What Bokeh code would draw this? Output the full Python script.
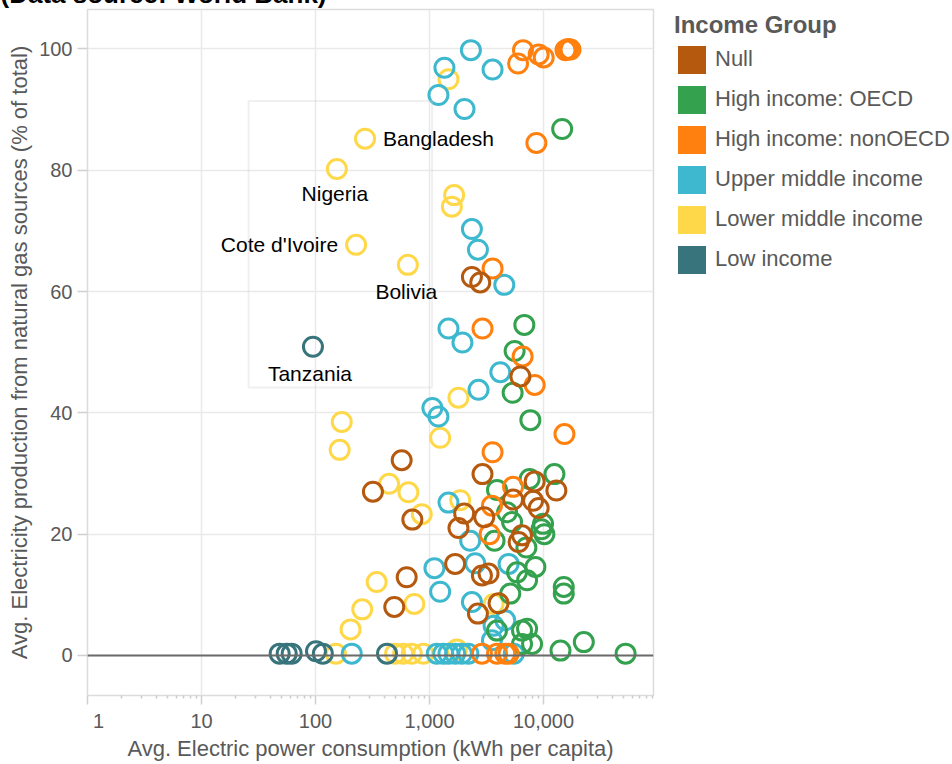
from bokeh.plotting import figure
from bokeh.models import FixedTicker, Legend, LegendItem, BoxAnnotation, Span
from bokeh.core.properties import value
from bokeh.embed import file_html
from bokeh.resources import INLINE

FONT = "Liberation Sans"
GRAY = "#595959"

# ---------------- data ----------------
groups = ["Null", "High income: OECD", "High income: nonOECD",
          "Upper middle income", "Lower middle income", "Low income"]
colors = ["#B5590F", "#33A14D", "#FF800E", "#3DB8CE", "#FFD84A", "#37747B"]

null_x = [2355, 2786, 6270, 570, 2917, 8370, 12970, 5410, 8100, 9070, 707, 2015,
          3020, 1795, 6480, 6050, 319, 631, 491, 1679, 2884, 3296, 2660, 4036]
null_y = [62.4, 61.5, 46.0, 32.2, 29.9, 28.7, 27.2, 25.7, 25.5, 24.3, 22.4, 23.4,
          22.8, 21.0, 19.8, 18.7, 27.0, 12.9, 8.0, 15.1, 13.2, 13.5, 6.9, 8.6]

oecd_x = [14580, 6790, 5580, 5360, 7670, 12470, 3910, 7560, 4790, 5300, 9910, 10180,
          9600, 3720, 7080, 5860, 7180, 8490, 5110, 3910, 6480, 7180, 6480, 7940,
          15060, 15060, 14090, 22580, 52500]
oecd_y = [86.8, 54.5, 50.2, 43.3, 38.8, 29.9, 27.3, 29.1, 23.6, 22.0, 21.7, 20.0,
          20.8, 18.9, 17.8, 13.7, 12.4, 14.6, 10.2, 4.1, 4.1, 4.4, 1.9, 1.9,
          11.3, 10.2, 0.8, 2.2, 0.3]

nonoecd_x = [6610, 5980, 9070, 10040, 15600, 16400, 17250, 8660, 3574, 2917, 6560,
             8370, 15270, 3574, 5410, 3530, 3365, 2884, 3910, 4620, 4943]
nonoecd_y = [99.8, 97.6, 99.1, 98.6, 99.8, 100.0, 99.9, 84.5, 63.8, 53.9, 49.3,
             44.6, 36.5, 33.5, 27.8, 24.7, 20.0, 0.3, 0.3, 0.3, 0.3]

upper_x = [2307, 1352, 3574, 1198, 2028, 2355, 2660, 4530, 1467, 1945, 4180, 2692,
           1060, 1198, 1467, 2275, 1105, 1240, 2518, 2355, 4943, 3650, 4620, 3530,
           208, 1159, 1321, 1467, 1679, 1923, 2193, 5490]
upper_y = [99.8, 96.9, 96.6, 92.4, 90.1, 70.3, 66.9, 61.1, 53.9, 51.6, 46.7, 43.8,
           40.8, 39.4, 25.2, 18.9, 14.4, 10.5, 15.2, 8.8, 15.1, 4.9, 5.8, 2.5,
           0.3, 0.3, 0.3, 0.3, 0.3, 0.3, 0.3, 0.3]

lower_x = [272, 154, 227, 646, 1467, 1645, 1571, 1795, 1240, 170, 163, 442, 653,
           856, 1858, 344, 257, 736, 203, 3650, 151, 499, 587, 699, 883, 1738]
lower_y = [85.2, 80.2, 67.7, 64.4, 95.0, 75.9, 74.0, 42.5, 35.9, 38.5, 33.9, 28.3,
           26.9, 23.3, 25.6, 12.1, 7.6, 8.5, 4.3, 8.5, 0.3, 0.3, 0.3, 0.3, 0.3, 1.0]

low_x = [95, 48.5, 55.9, 61.8, 101, 116, 424]
low_y = [50.9, 0.3, 0.3, 0.3, 0.7, 0.3, 0.3]

series_x = [null_x, oecd_x, nonoecd_x, upper_x, lower_x, low_x]
series_y = [null_y, oecd_y, nonoecd_y, upper_y, lower_y, low_y]

ann_names = ["Bangladesh", "Nigeria", "Cote d'Ivoire", "Bolivia", "Tanzania"]
ann_x = [272, 154, 227, 646, 95]
ann_y = [85.2, 80.2, 67.7, 64.4, 50.9]

box_left, box_right, box_bottom, box_top = 25.9, 1054, 44.2, 91.4

x_ticks = [1, 10, 100, 1000, 10000]
x_tick_labels = ["1", "10", "100", "1,000", "10,000"]
y_ticks = [0, 20, 40, 60, 80, 100]

title_text = "(Data source: World Bank)"

# ---------------- layout / style (not data) ----------------
ann_layout = {  # (x_offset px, y_offset px, align)
    "Bangladesh": (18, 0, "left"),
    "Nigeria": (-2, 24, "center"),
    "Cote d'Ivoire": (-18, 0, "right"),
    "Bolivia": (-1.5, 27, "center"),
    "Tanzania": (-3, 27, "center"),
}

X0, X1 = 1, 92250
Y0, Y1 = -6.6, 106.5

p = figure(frame_width=566, frame_height=686, x_axis_type="log",
           x_range=(X0, X1), y_range=(Y0, Y1),
           min_border_left=87, min_border_right=299, min_border_top=0,
           min_border_bottom=69, output_backend="svg", toolbar_location=None,
           title=title_text)
# the original's title is pushed above the top edge of the page
p.styles = {"margin-top": "-25px"}

p.title.align = "left"
p.title.offset = -87
p.title.standoff = 2
p.title.text_font = FONT
p.title.text_font_size = "26px"
p.title.text_font_style = "bold"
p.title.text_color = "black"

p.outline_line_color = "#dcdcdc"
p.outline_line_width = 1.5
p.background_fill_color = "white"
p.border_fill_color = "white"

minor = []
for d in [1, 10, 100, 1000, 10000]:
    for k in range(2, 10):
        if d * k < X1:
            minor.append(d * k)

NB = "\u00a0"
p.xaxis.ticker = FixedTicker(ticks=x_ticks, minor_ticks=minor)
p.xaxis.major_label_overrides = {t: (lab if t != 1 else NB * 4 + lab)
                                 for t, lab in zip(x_ticks, x_tick_labels)}
p.yaxis.ticker = FixedTicker(ticks=y_ticks)
p.xgrid.ticker = FixedTicker(ticks=x_ticks)
p.ygrid.ticker = FixedTicker(ticks=y_ticks)
for g in (p.xgrid, p.ygrid):
    g.grid_line_color = "#e9e9e9"
    g.grid_line_width = 1.5

for ax in (p.xaxis, p.yaxis):
    ax.axis_line_color = None
    ax.major_tick_line_color = "#d0d0d0"
    ax.major_tick_line_width = 1.5
    ax.major_tick_in = 0
    ax.major_label_text_font = FONT
    ax.major_label_text_font_size = "20px"
    ax.major_label_text_color = GRAY
    ax.axis_label_text_font = FONT
    ax.axis_label_text_font_size = "22px"
    ax.axis_label_text_font_style = "normal"
    ax.axis_label_text_color = GRAY

p.xaxis.major_tick_out = 9
p.xaxis.major_label_standoff = 5
p.xaxis.minor_tick_out = 3
p.xaxis.minor_tick_in = 0
p.xaxis.minor_tick_line_color = "#cccccc"
p.xaxis.minor_tick_line_width = 1.5
p.xaxis.axis_label = "Avg. Electric power consumption (kWh per capita)"
p.xaxis.axis_label_standoff = 1

p.yaxis.major_tick_out = 10
p.yaxis.major_label_standoff = 5
p.yaxis.minor_tick_line_color = None
p.yaxis.axis_label = "Avg. Electricity production from natural gas sources (% of total)"
p.yaxis.axis_label_standoff = 4

# zero rule
p.add_layout(Span(location=0, dimension="width", line_color="#6b6b6b", line_width=2))

# points
order = [4, 3, 1, 2, 0, 5]
for i in order:
    p.scatter(series_x[i], series_y[i], marker="circle", size=19,
              fill_color=None, line_color=colors[i], line_width=3)

# annotations
for name, ax_, ay_ in zip(ann_names, ann_x, ann_y):
    dx, dy, al = ann_layout[name]
    p.text([ax_], [ay_], text=[name], x_offset=dx, y_offset=dy,
           text_align=al, text_baseline="alphabetic",
           text_font=value(FONT), text_font_size="21px", text_color="black")

p.add_layout(BoxAnnotation(left=box_left, right=box_right, bottom=box_bottom, top=box_top,
                           fill_alpha=0, line_color="#cccccc", line_width=2))

# legend (swatch-only renderers, nothing drawn in the plot area)
nan = float("nan")
dummies = []
for c in colors:
    dummies.append(p.quad(left=[nan], right=[nan], top=[nan], bottom=[nan],
                          fill_color=c, line_color=None))
legend = Legend(items=[LegendItem(label=g, renderers=[r]) for g, r in zip(groups, dummies)],
                location=(21, 418.5), orientation="vertical")
legend.title = "Income Group"
legend.title_text_font = FONT
legend.title_text_font_style = "bold"
legend.title_text_font_size = "24px"
legend.title_text_color = GRAY
legend.title_standoff = 3
legend.label_text_font = FONT
legend.label_text_font_size = "22px"
legend.label_text_color = GRAY
legend.glyph_width = 35
legend.glyph_height = 35
legend.label_standoff = 6
legend.spacing = 5
legend.padding = 0
legend.margin = 0
legend.border_line_color = None
legend.background_fill_alpha = 0
p.add_layout(legend, "right")

open("out.html", "w").write(file_html(p, INLINE))
